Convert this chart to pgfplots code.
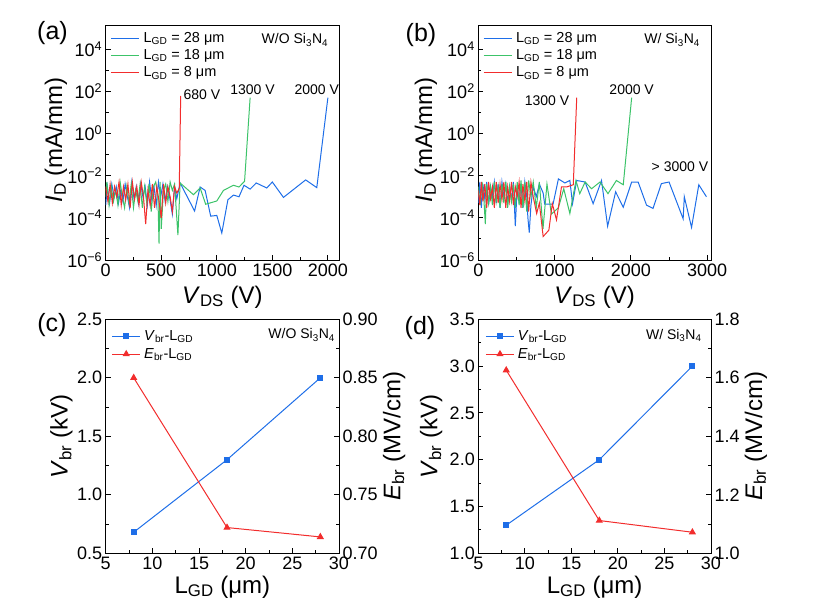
\documentclass[border=0pt]{standalone}
\usepackage{fontspec}
\setmainfont{Liberation Sans}
\usepackage{pgfplots}
\pgfplotsset{compat=1.18}
\definecolor{cb}{RGB}{30,110,232}
\definecolor{cg}{RGB}{60,195,105}
\definecolor{cr}{RGB}{242,45,45}
\newcommand\tickfont{\fontsize{18}{21}\selectfont}
\newcommand\labfont{\fontsize{24}{28}\selectfont}
\newcommand\legfont{\fontsize{14.5}{17}\selectfont}
\newcommand\annfont{\fontsize{14}{17}\selectfont}
\newcommand\panfont{\fontsize{25}{30}\selectfont}
\pgfplotsset{
  mybase/.style={scale only axis, width=233.3pt, height=235pt,
    axis line style={line width=0.9pt}, every tick/.style={line width=0.9pt, black},
    major tick length=5pt, minor tick length=3pt, tick align=inside,
    tick label style={font=\tickfont}, label style={font=\labfont},
    /pgf/number format/assume math mode=true, /pgf/number format/1000 sep={},
    scaled ticks=false},
  myiv/.style={mybase, ymin=1e-6, ymax=1.4e5, tick pos=left,
    ytick={1e-6,1e-4,1e-2,1,1e2,1e4},
    yticklabels={10\textsuperscript{−6},10\textsuperscript{−4},10\textsuperscript{−2},10\textsuperscript{0},10\textsuperscript{2},10\textsuperscript{4}},
    minor ytick={1e-5,1e-3,1e-1,1e1,1e3},
    xlabel={\textit{V}\textsubscript{DS} (V)},
    ylabel={\textit{I}\textsubscript{D} (mA/mm)},
    xlabel style={at={(axis description cs:0.5,-0.157)}, anchor=center},
    legend style={at={(0.02,0.975)}, anchor=north west, draw=none, fill=none, font=\legfont,
      inner sep=0pt, row sep=2.5pt, column sep=2.5pt, nodes={inner sep=1.5pt}},
    legend cell align=left,
    legend image code/.code={\draw[##1, line width=1pt] (0pt,0pt) -- (28pt,0pt);}},
  mybr/.style={mybase, height=234pt, xmin=5, xmax=30, xtick={5,10,...,30}, minor x tick num=1,
    minor y tick num=1,
    xlabel={L\textsubscript{GD} (μm)},
    xlabel style={at={(axis description cs:0.5,-0.144)}, anchor=center},
    yticklabel style={/pgf/number format/.cd, fixed, fixed zerofill, precision=1},
    legend style={at={(0.025,0.96)}, anchor=north west, draw=none, fill=none, font=\legfont,
      inner sep=0pt, row sep=3.5pt, column sep=2pt, nodes={inner sep=1.5pt}},
    legend cell align=left,
    legend image code/.code={\draw[mark repeat=2,mark phase=2,##1] plot coordinates {(0pt,0pt) (14pt,0pt) (28pt,0pt)};}},
  mybrr/.style={mybase, height=234pt, xmin=5, xmax=30, axis x line=none, axis y line*=right,
    minor y tick num=1,
    yticklabel style={/pgf/number format/.cd, fixed, fixed zerofill},
    ylabel={\textit{E}\textsubscript{br} (MV/cm)}},
}
\begin{document}
\begin{tikzpicture}
\useasboundingbox (0pt,0pt) rectangle (815pt,615pt);
\node[font=\panfont] at (52.5pt,582pt) {(a)};
\node[font=\panfont] at (421pt,580pt) {(b)};
\node[font=\panfont] at (52pt,290pt) {(c)};
\node[font=\panfont] at (420pt,287pt) {(d)};
% ---------------- (a)
\begin{axis}[ymode=log, myiv, at={(105.7pt,355pt)}, xmin=0, xmax=2100, xtick={0,500,...,2000}, minor x tick num=1,
  ylabel style={at={(axis description cs:-0.213,0.51)}, anchor=center}]
\addplot[cb, line width=1pt] coordinates {
(0,4e-4)(15,3e-3)(35,5e-4)(55,4e-3)(75,1e-3)(95,3e-3)(115,5e-4)(135,2e-3)(155,6e-4)(175,4e-3)
(195,1e-3)(215,3e-4)(235,5e-3)(255,8e-4)(275,3e-3)(295,5e-4)(315,4e-3)(335,1e-3)(355,3e-3)(375,4e-4)
(395,5e-3)(415,7e-4)(435,3e-3)(455,4e-4)(475,5e-3)(495,1e-3)(515,4e-3)(535,6e-4)(555,3e-3)(575,1e-3)
(600,1.5e-4)(620,3e-3)(640,8e-4)(670,4.5e-3)(800,2.1e-4)(850,2.9e-3)(895,2e-3)(945,1.2e-4)(1000,1.3e-4)
(1045,1.9e-5)(1100,7.2e-4)(1150,1.2e-3)(1200,1e-3)(1245,3.5e-3)(1300,2.3e-3)(1355,4.5e-3)(1450,2.6e-3)
(1500,5e-3)(1600,9.3e-4)(1800,6.3e-3)(1900,2.7e-3)(2000,50)};
\addlegendentry{L\textsubscript{GD} = 28 μm}
\addplot[cg, line width=1pt] coordinates {
(0,1e-3)(10,5e-3)(30,4e-4)(50,3e-3)(70,6e-4)(90,2e-3)(110,4e-4)(130,5e-3)(150,1e-3)(170,3e-4)
(190,3e-3)(210,5e-4)(230,4e-3)(250,3e-4)(270,2e-3)(290,6e-4)(310,4e-3)(330,3e-4)(350,3e-3)(370,5e-4)
(390,4e-3)(410,2e-4)(430,3e-3)(450,5e-3)(470,1e-3)(480,6e-6)(490,5e-3)(500,3e-5)(520,2e-3)(540,4e-3)
(560,6e-4)(580,5e-3)(600,2e-3)(620,4e-3)(650,1.5e-5)(670,4.5e-3)(790,1.25e-3)(850,2.6e-3)(900,4.4e-4)
(1000,6.3e-4)(1060,2e-3)(1150,3.5e-3)(1200,2.9e-3)(1250,5.4e-3)(1300,50)};
\addlegendentry{L\textsubscript{GD} = 18 μm}
\addplot[cr, line width=1pt] coordinates {
(0,3e-3)(20,6e-4)(40,4e-3)(60,5e-4)(80,3e-3)(100,1e-3)(120,5e-3)(140,4e-4)(160,3e-3)(180,7e-4)
(200,4e-3)(220,3e-4)(240,5e-3)(260,8e-4)(280,3e-3)(300,4e-4)(320,5e-3)(340,1e-3)(360,5e-5)(380,2e-3)
(400,4e-4)(420,4e-3)(440,3e-4)(460,3e-3)(480,6e-4)(500,1e-4)(520,4e-3)(540,5e-4)(560,3e-3)(580,1e-3)
(600,2e-4)(620,3e-3)(640,1.5e-3)(662,2.5e-3)(675,60)};
\addlegendentry{L\textsubscript{GD} = 8 μm}
\node[font=\annfont, anchor=east, inner sep=0pt] at (rel axis cs:0.954,0.936) {W/O Si\textsubscript{3}N\textsubscript{4}};
\node[font=\annfont, anchor=west, inner sep=0pt] at (axis cs:700,73) {680 V};
\node[font=\annfont, inner sep=0pt] at (axis cs:1322,125) {1300 V};
\node[font=\annfont, inner sep=0pt] at (axis cs:1900,125) {2000 V};
\end{axis}
% ---------------- (b)
\begin{axis}[ymode=log, myiv, at={(478.3pt,355pt)}, width=232.7pt, xmin=0, xmax=3050, xtick={0,1000,2000,3000}, minor x tick num=1,
  ylabel style={at={(axis description cs:-0.225,0.51)}, anchor=center}]
\addplot[cb, line width=1pt] coordinates {
(0,5e-4)(20,5e-3)(40,3e-4)(60,4e-3)(85,8e-4)(110,5e-3)(135,4e-4)(160,3e-3)(185,1e-3)(210,5e-3)
(235,5e-4)(260,4e-3)(285,3e-4)(310,5e-3)(335,1e-3)(360,4e-3)(385,5e-4)(410,3e-3)(435,7e-4)(460,5e-3)
(485,4e-5)(510,3e-3)(535,6e-4)(560,4e-3)(585,3e-4)(610,5e-3)(635,1e-3)(650,1e-4)(668,2e-5)(690,4e-4)
(720,3e-3)(760,1e-3)(800,4e-3)(850,1.5e-3)(870,4.5e-4)(980,4.5e-4)(1050,7e-3)(1135,4.5e-3)(1200,5.9e-3)
(1235,4.7e-4)(1290,5.9e-3)(1400,5e-3)(1505,4.7e-4)(1615,5.9e-3)(1695,4e-5)(1800,1.7e-3)(1900,3.2e-4)
(2010,5e-3)(2095,5e-3)(2205,4e-4)(2290,2.8e-4)(2400,4.2e-3)(2500,5e-3)(2685,9e-5)(2700,1e-3)(2795,3.5e-5)
(2890,3.7e-3)(2990,1e-3)};
\addlegendentry{L\textsubscript{GD} = 28 μm}
\addplot[cg, line width=1pt] coordinates {
(0,3e-3)(25,4e-4)(50,5e-3)(75,6e-4)(92,5e-5)(110,4e-3)(135,5e-4)(160,3e-3)(185,4e-4)(210,5e-3)
(235,6e-4)(260,3e-3)(285,3e-4)(310,4e-3)(335,5e-4)(360,5e-3)(385,3e-4)(410,3e-3)(435,6e-4)(460,4e-3)
(485,3e-4)(510,5e-3)(535,4e-4)(560,6e-3)(585,3e-4)(610,5e-3)(635,2e-4)(660,6e-3)(690,1e-3)(720,5e-3)
(760,3e-4)(800,5e-3)(848,3e-5)(900,4e-3)(958,1.5e-4)(1050,3e-4)(1120,2.4e-3)(1200,1.6e-4)(1280,5.9e-3)
(1330,1.4e-3)(1400,5e-3)(1485,2.4e-3)(1595,5e-3)(1700,1.4e-3)(1810,5.9e-3)(1900,3.7e-3)(2010,50)};
\addlegendentry{L\textsubscript{GD} = 18 μm}
\addplot[cr, line width=1pt] coordinates {
(0,2e-3)(20,4e-4)(40,5e-3)(60,6e-4)(85,4e-3)(110,3e-4)(135,5e-3)(160,8e-4)(185,3e-3)(210,3e-4)
(235,5e-3)(260,5e-4)(285,4e-3)(310,7e-4)(335,5e-3)(360,3e-4)(385,3e-3)(410,6e-4)(435,5e-3)(460,4e-4)
(485,3e-3)(510,1e-3)(535,5e-3)(560,3e-4)(585,4e-3)(610,6e-4)(635,5e-3)(660,2e-4)(690,5e-3)(720,1e-3)
(765,1.6e-4)(800,5e-4)(850,1.3e-5)(925,2.6e-5)(970,4.7e-4)(1025,8e-5)(1090,2.9e-3)(1155,2.9e-3)
(1245,3.7e-3)(1290,50)};
\addlegendentry{L\textsubscript{GD} = 8 μm}
\node[font=\annfont, anchor=east, inner sep=0pt] at (rel axis cs:0.953,0.936) {W/ Si\textsubscript{3}N\textsubscript{4}};
\node[font=\annfont, anchor=east, inner sep=0pt] at (axis cs:1193,35) {1300 V};
\node[font=\annfont, inner sep=0pt] at (axis cs:2010,125) {2000 V};
\node[font=\annfont, inner sep=0pt] at (axis cs:2643,0.028) {> 3000 V};
\end{axis}
% ---------------- (c)
\begin{axis}[mybr, at={(105.7pt,61.7pt)}, ymin=0.5, ymax=2.5, ytick={0.5,1.0,...,2.5}, tick pos=left,
  ylabel={\textit{V}\textsubscript{br} (kV)},
  ylabel style={at={(axis description cs:-0.19,0.5)}, anchor=center}]
\addplot[cb, line width=1pt, mark=square*, mark size=2.6pt] coordinates {(8,0.68)(18,1.3)(28,2.0)};
\addlegendentry{\textit{V}\textsubscript{br}-L\textsubscript{GD}}
\addlegendimage{cr, line width=1pt, mark=triangle*, mark size=3.2pt}
\addlegendentry{\textit{E}\textsubscript{br}-L\textsubscript{GD}}
\node[font=\annfont, anchor=east, inner sep=0pt] at (rel axis cs:0.983,0.933) {W/O Si\textsubscript{3}N\textsubscript{4}};
\end{axis}
\begin{axis}[mybrr, at={(105.7pt,61.7pt)}, ymin=0.70, ymax=0.90, ytick={0.70,0.75,...,0.90},
  yticklabel style={/pgf/number format/precision=2},
  ylabel style={at={(axis description cs:1.236,0.5)}, anchor=center}]
\addplot[cr, line width=1pt, mark=triangle*, mark size=3.2pt] coordinates {(8,0.85)(18,0.722)(28,0.714)};
\end{axis}
% ---------------- (d)
\begin{axis}[mybr, at={(478.3pt,61.7pt)}, width=232.7pt, ymin=1.0, ymax=3.5, ytick={1.0,1.5,...,3.5}, tick pos=left,
  ylabel={\textit{V}\textsubscript{br} (kV)},
  ylabel style={at={(axis description cs:-0.203,0.5)}, anchor=center},
  legend style={at={(0.03,0.96)}}]
\addplot[cb, line width=1pt, mark=square*, mark size=2.6pt] coordinates {(8,1.3)(18,2.0)(28,3.0)};
\addlegendentry{\textit{V}\textsubscript{br}-L\textsubscript{GD}}
\addlegendimage{cr, line width=1pt, mark=triangle*, mark size=3.2pt}
\addlegendentry{\textit{E}\textsubscript{br}-L\textsubscript{GD}}
\node[font=\annfont, anchor=east, inner sep=0pt] at (rel axis cs:0.96,0.93) {W/ Si\textsubscript{3}N\textsubscript{4}};
\end{axis}
\begin{axis}[mybrr, at={(478.3pt,61.7pt)}, width=232.7pt, ymin=1.0, ymax=1.8, ytick={1.0,1.2,...,1.8},
  yticklabel style={/pgf/number format/precision=1},
  ylabel style={at={(axis description cs:1.193,0.5)}, anchor=center}]
\addplot[cr, line width=1pt, mark=triangle*, mark size=3.2pt] coordinates {(8,1.626)(18,1.112)(28,1.072)};
\end{axis}
\end{tikzpicture}
\end{document}
